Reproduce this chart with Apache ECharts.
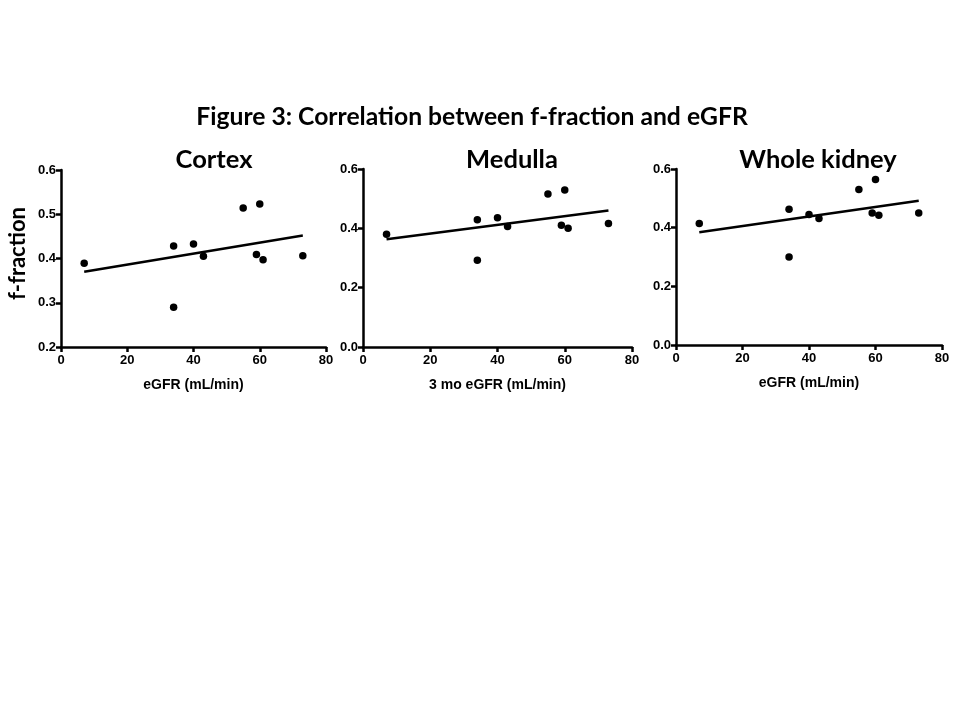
<!DOCTYPE html>
<html>
<head>
<meta charset="utf-8">
<script src="https://cdn.jsdelivr.net/npm/echarts@6/dist/echarts.min.js"></script>
<style>
html,body{margin:0;padding:0;background:#fff;}
#chart{width:960px;height:720px;}
</style>
</head>
<body>
<div id="chart"></div>
<script>
const egfr = [7, 34, 34, 40, 43, 55, 60, 59, 61, 73];
const cortex = [0.389, 0.428, 0.290, 0.433, 0.405, 0.514, 0.523, 0.409, 0.397, 0.406];
const medulla = [0.380, 0.429, 0.292, 0.436, 0.406, 0.516, 0.529, 0.410, 0.400, 0.416];
const wholeKidney = [0.414, 0.463, 0.300, 0.445, 0.431, 0.530, 0.564, 0.450, 0.442, 0.450];
const trendCortex = [[7, 0.370], [73, 0.452]];
const trendMedulla = [[7, 0.363], [73, 0.460]];
const trendWhole = [[7, 0.384], [73, 0.492]];
const panelTitles = ['Cortex', 'Medulla', 'Whole kidney'];
const xNames = ['eGFR (mL/min)', '3 mo eGFR (mL/min)', 'eGFR (mL/min)'];
const mainTitle = 'Figure 3: Correlation between f-fraction and eGFR';
const yLabel = 'f-fraction';

const grids = [
  {left: 61, top: 170, width: 265, height: 177},
  {left: 363, top: 169, width: 269, height: 178},
  {left: 676, top: 169, width: 266, height: 176}
];
const yRanges = [[0.2, 0.6, 0.1], [0, 0.6, 0.2], [0, 0.6, 0.2]];
const seriesVals = [cortex, medulla, wholeKidney];
const trends = [trendCortex, trendMedulla, trendWhole];

const axisLine = {lineStyle: {color: '#000', width: 2.5}};
const axisTick = {show: true, length: 5, lineStyle: {color: '#000', width: 2.5}};
const tickFont = {color: '#000', fontFamily: 'Liberation Sans', fontWeight: 'bold', fontSize: 13};

const option = {
  backgroundColor: '#fff',
  animation: false,
  title: [
    {text: mainTitle, left: 472, top: 105, textAlign: 'center', padding: 0,
     textStyle: {fontFamily: 'Lato', fontWeight: 'bold', fontSize: 24.7, color: '#000'}},
  ].concat(panelTitles.map((t, i) => ({
    text: t, left: [214, 512, 818][i], top: 147, textAlign: 'center', padding: 0,
    textStyle: {fontFamily: 'Lato', fontWeight: 'bold', fontSize: 25.5, color: '#000'}
  }))),
  grid: grids,
  xAxis: grids.map((g, i) => ({
    type: 'value', gridIndex: i, min: 0, max: 80, interval: 20,
    name: xNames[i], nameLocation: 'middle', nameGap: 31,
    nameTextStyle: {color: '#000', fontFamily: 'Liberation Sans', fontWeight: 'bold', fontSize: 14},
    axisLine: axisLine, axisTick: axisTick, splitLine: {show: false},
    axisLabel: Object.assign({margin: 7}, tickFont)
  })),
  yAxis: grids.map((g, i) => ({
    type: 'value', gridIndex: i, min: yRanges[i][0], max: yRanges[i][1], interval: yRanges[i][2],
    name: i === 0 ? yLabel : '', nameLocation: 'middle', nameGap: 32, nameRotate: 90,
    nameTextStyle: {color: '#000', fontFamily: 'Lato', fontWeight: 'bold', fontSize: 22, padding: [0, 0, 0, 10]},
    axisLine: axisLine, axisTick: axisTick, splitLine: {show: false},
    axisLabel: Object.assign({margin: 5, formatter: v => v.toFixed(1)}, tickFont)
  })),
  series: []
};

seriesVals.forEach((vals, i) => {
  option.series.push({
    type: 'scatter', xAxisIndex: i, yAxisIndex: i,
    data: egfr.map((x, k) => [x, vals[k]]),
    symbol: 'circle', symbolSize: 7.5, itemStyle: {color: '#000', opacity: 1}, z: 3
  });
  option.series.push({
    type: 'line', xAxisIndex: i, yAxisIndex: i, data: trends[i],
    symbol: 'none', lineStyle: {color: '#000', width: 2.5}, z: 2
  });
});

const chart = echarts.init(document.getElementById('chart'));
chart.setOption(option);
</script>
</body>
</html>
